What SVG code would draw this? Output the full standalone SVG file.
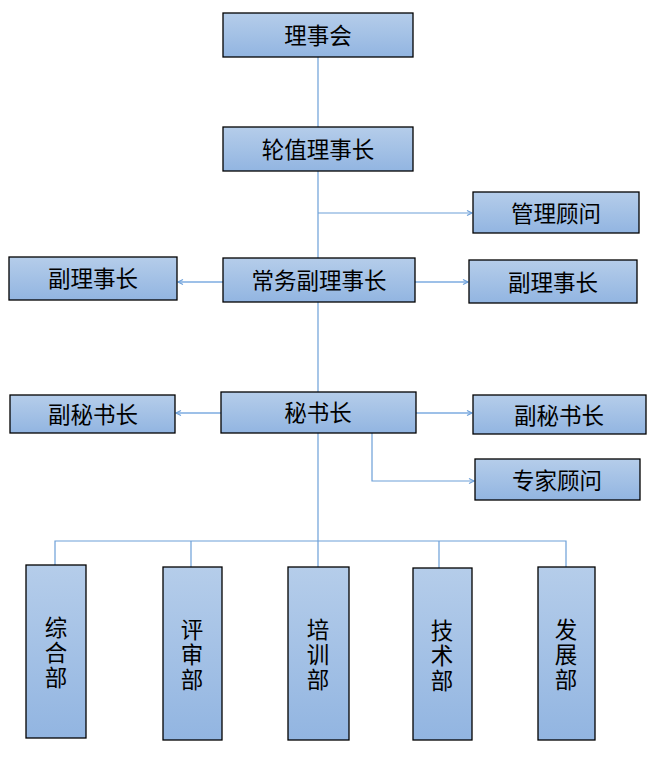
<svg xmlns="http://www.w3.org/2000/svg" width="657" height="759" viewBox="0 0 657 759">
<defs>
<linearGradient id="g" x1="0" y1="0" x2="0" y2="1">
<stop offset="0" stop-color="#b5cdea"/>
<stop offset="1" stop-color="#92b5e1"/>
</linearGradient>
<marker id="a" markerWidth="8" markerHeight="8" refX="6" refY="4" orient="auto" markerUnits="userSpaceOnUse">
<path d="M1,1.5 L6,4 L1,6.5" fill="none" stroke="#6c9fd8" stroke-width="1.2"/>
</marker>
</defs>
<style>
.n rect{fill:url(#g);stroke:#000;stroke-width:1.3}
.n text{font-family:"Liberation Sans","Noto Sans CJK SC",sans-serif;font-size:22.5px;fill:#000;text-anchor:middle;dominant-baseline:central}
.c path{fill:none;stroke:#6c9fd8;stroke-width:1.2}
.c .w{stroke:#9dc0e8;stroke-width:2;marker-end:url(#a)}
.c .t{marker-end:url(#a)}
</style>
<g class="c" id="connectors">
<path d="M318,57 V258"/>
<path class="t" d="M318,213 H472"/>
<path class="w" d="M223,282 H178"/>
<path class="w" d="M415,282 H468"/>
<path d="M318,302 V392"/>
<path class="w" d="M221,413 H176"/>
<path class="w" d="M416,413 H472"/>
<path class="t" d="M372,433 V481 H474"/>
<path d="M318,433 V567"/>
<path d="M55,565 V541 H566 V567"/>
<path d="M191,541 V567"/>
<path d="M439,541 V568"/>
</g>
<g class="n" id="n1"><rect x="223" y="13" width="190" height="44"/><text x="318" y="36">理事会</text></g>
<g class="n" id="n2"><rect x="223" y="127" width="190" height="44"/><text x="318" y="150">轮值理事长</text></g>
<g class="n" id="n3"><rect x="473" y="192" width="166" height="41"/><text x="556" y="214">管理顾问</text></g>
<g class="n" id="n4"><rect x="9" y="257" width="168" height="43"/><text x="93" y="279">副理事长</text></g>
<g class="n" id="n5"><rect x="223" y="258" width="192" height="44"/><text x="319" y="281">常务副理事长</text></g>
<g class="n" id="n6"><rect x="469" y="260" width="168" height="43"/><text x="553" y="283">副理事长</text></g>
<g class="n" id="n7"><rect x="10" y="395" width="165" height="38"/><text x="93" y="415">副秘书长</text></g>
<g class="n" id="n8"><rect x="221" y="392" width="195" height="41"/><text x="318" y="413">秘书长</text></g>
<g class="n" id="n9"><rect x="473" y="395" width="173" height="39"/><text x="559" y="416">副秘书长</text></g>
<g class="n" id="n10"><rect x="475" y="459" width="165" height="41"/><text x="557" y="481">专家顾问</text></g>
<g class="n" id="n11"><rect x="26" y="565" width="60" height="173"/><text x="56" y="628">综</text><text x="56" y="653">合</text><text x="56" y="678">部</text></g>
<g class="n" id="n12"><rect x="163" y="567" width="59" height="173"/><text x="192" y="630">评</text><text x="192" y="655">审</text><text x="192" y="680">部</text></g>
<g class="n" id="n13"><rect x="288" y="567" width="61" height="173"/><text x="318" y="630">培</text><text x="318" y="655">训</text><text x="318" y="680">部</text></g>
<g class="n" id="n14"><rect x="413" y="568" width="59" height="172"/><text x="442" y="631">技</text><text x="442" y="656">术</text><text x="442" y="681">部</text></g>
<g class="n" id="n15"><rect x="538" y="567" width="57" height="173"/><text x="566" y="630">发</text><text x="566" y="655">展</text><text x="566" y="680">部</text></g>
</svg>
